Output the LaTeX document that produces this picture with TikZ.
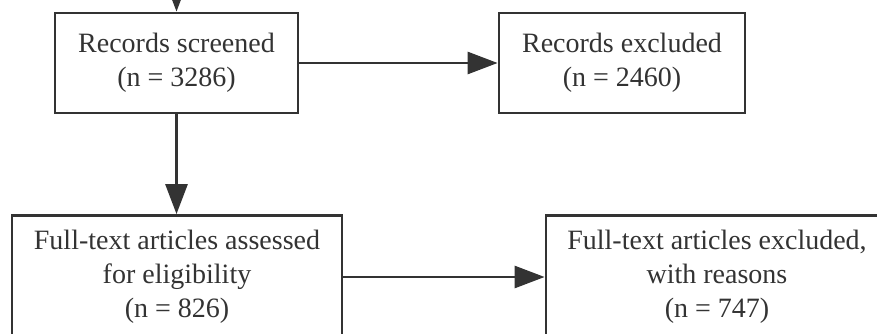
\documentclass[tikz,border=0pt]{standalone}
\usepackage{fontspec}
\setmainfont{Liberation Serif}
\usetikzlibrary{arrows.meta}
\tikzset{
  box/.style={draw=black!80, line width=2.8pt, fill=white, inner sep=0pt,
    align=center, font=\fontsize{28}{34}\selectfont, text=black!80},
  conn/.style={draw=black!80, line width=2.8pt,
    -{Triangle[length=30pt,width=22pt]}}
}
\begin{document}
\begin{tikzpicture}[x=1pt,y=-1pt]
\useasboundingbox (0,0) rectangle (877,334);
\clip (0,0) rectangle (877,334);
\node[box, minimum width=243pt, minimum height=100pt] (b1) at (176.5,63)
  {Records screened\\(n = 3286)};
\node[box, minimum width=246pt, minimum height=100pt] (b2) at (622,63)
  {Records excluded\\(n = 2460)};
\node[box, minimum width=330pt, minimum height=123pt] (b3) at (177,277)
  {Full-text articles assessed\\for eligibility\\(n = 826)};
\node[box, minimum width=342pt, minimum height=123pt] (b4) at (717,277)
  {Full-text articles excluded,\\with reasons\\(n = 747)};
\coordinate (top) at (176.5,-40);
\draw[conn] (top) -- (b1.north);
\draw[conn] (b1.south) -- (b1.south |- b3.north);
\draw[conn] (b1.east) -- (b2.west);
\draw[conn] (b3.east) -- (b4.west);
\end{tikzpicture}
\end{document}
